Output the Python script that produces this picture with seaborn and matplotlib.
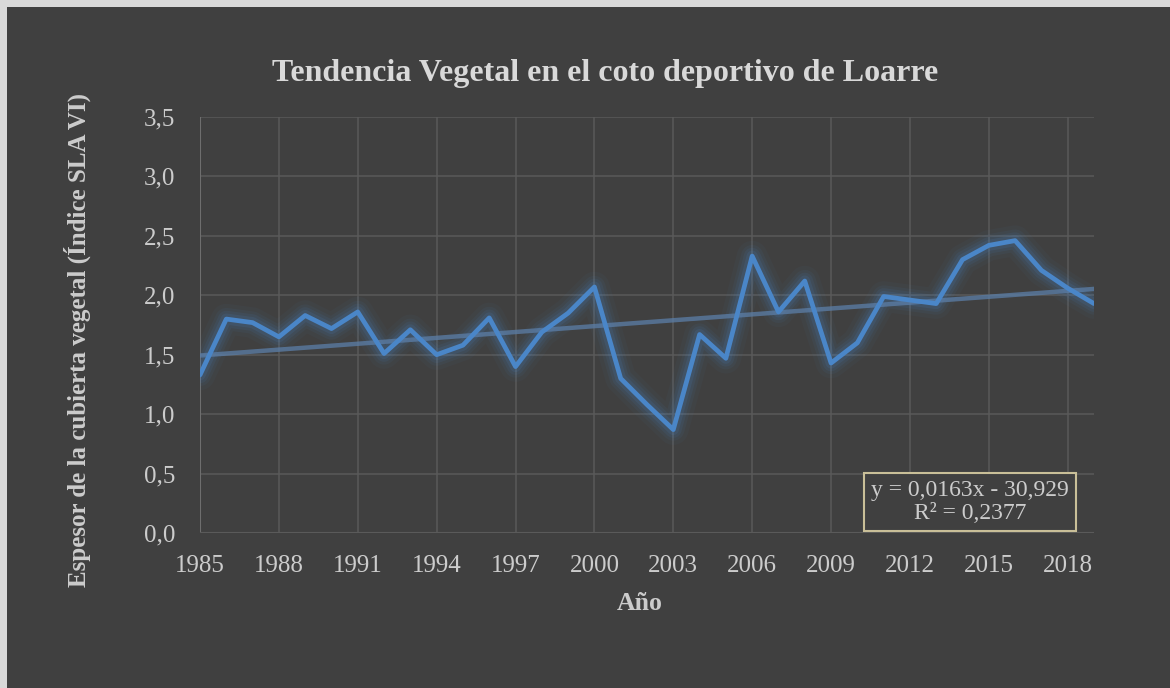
import numpy as np
import pandas as pd
import seaborn as sns
import matplotlib.pyplot as plt
from matplotlib.patches import Rectangle
from matplotlib.ticker import FuncFormatter, MultipleLocator

# datos
years = list(range(1985, 2020))
slavi = [1.33, 1.80, 1.77, 1.65, 1.83, 1.72, 1.86, 1.51, 1.71, 1.50,
         1.58, 1.81, 1.40, 1.69, 1.85, 2.07, 1.30, 1.08, 0.87, 1.67,
         1.47, 2.33, 1.86, 2.12, 1.43, 1.60, 1.99, 1.96, 1.93, 2.30,
         2.42, 2.46, 2.21, 2.06, 1.93]
x_ticks = list(range(1985, 2020, 3))
eq_text = "y = 0,0163x - 30,929\nR² = 0,2377"

df = pd.DataFrame({"Año": years, "SLAVI": slavi})

bg = "#404040"
txt = "#cccccc"
blue = "#4a86c8"

sns.set_theme(style="darkgrid")
plt.rcParams["font.family"] = ["Liberation Serif", "DejaVu Serif"]

fig = plt.figure(figsize=(11.7, 6.88), dpi=100)
fig.patch.set_facecolor("#d9d9d9")
fig.patches.append(Rectangle((7 / 1170, 0), 1, 1 - 7 / 688, transform=fig.transFigure,
                             facecolor=bg, edgecolor="none", zorder=-5))

ax = fig.add_axes([200 / 1170, 1 - 533 / 688, 894 / 1170, 416 / 688])
ax.set_facecolor(bg)

# brillo alrededor de la linea
for lw, a in [(22, 0.045), (16, 0.065), (12, 0.09), (8, 0.13)]:
    sns.lineplot(data=df, x="Año", y="SLAVI", ax=ax, color=blue, lw=lw, alpha=a,
                 solid_capstyle="round", solid_joinstyle="round", zorder=2)

# linea de tendencia
sns.regplot(data=df, x="Año", y="SLAVI", ax=ax, scatter=False, ci=None,
            truncate=False, color="#5b7ea8",
            line_kws={"lw": 3.2, "alpha": 0.75, "zorder": 3})

sns.lineplot(data=df, x="Año", y="SLAVI", ax=ax, color=blue, lw=3.4,
             solid_joinstyle="round", zorder=4)

ax.set_xlim(1985, 2019)
ax.set_ylim(0, 3.5)
ax.set_xticks(x_ticks)
ax.yaxis.set_major_locator(MultipleLocator(0.5))
ax.yaxis.set_major_formatter(FuncFormatter(lambda v, p: f"{v:.1f}".replace(".", ",")))

ax.grid(True, color="#5a5a5a", lw=1.1)
for s in ax.spines.values():
    s.set_visible(False)
ax.axvline(1985, color="#6e6e6e", lw=1.5, zorder=1)
ax.axhline(0, color="#5a5a5a", lw=1.5, zorder=1)
ax.tick_params(axis="x", length=0, labelsize=18, labelcolor=txt, pad=16)
ax.tick_params(axis="y", length=0, labelsize=18, labelcolor=txt, pad=18)

ax.set_xlabel("Año", fontsize=18.5, fontweight="bold", color=txt)
ax.xaxis.set_label_coords((640 - 200) / 894, (533 - 603) / 416)
ax.set_ylabel("Espesor de la cubierta vegetal (Índice SLA VI)", fontsize=18,
              fontweight="bold", color=txt)
ax.yaxis.set_label_coords((77 - 200) / 894, (533 - 340) / 416)
ax.xaxis.label.set_va("center")
ax.yaxis.label.set_va("center")
fig.text(605 / 1170, 1 - 73 / 688, "Tendencia Vegetal en el coto deportivo de Loarre",
         ha="center", va="center", fontsize=23, fontweight="bold", color="#d9d9d9")

ax.text(0.861, 0.074, eq_text, transform=ax.transAxes, ha="center", va="center",
        fontsize=17, color=txt, linespacing=1.15, zorder=6,
        bbox=dict(boxstyle="square,pad=0.3", facecolor=bg, edgecolor="#c9bf98", lw=1.5))

plt.savefig("out.png", dpi=100, facecolor=fig.get_facecolor())
